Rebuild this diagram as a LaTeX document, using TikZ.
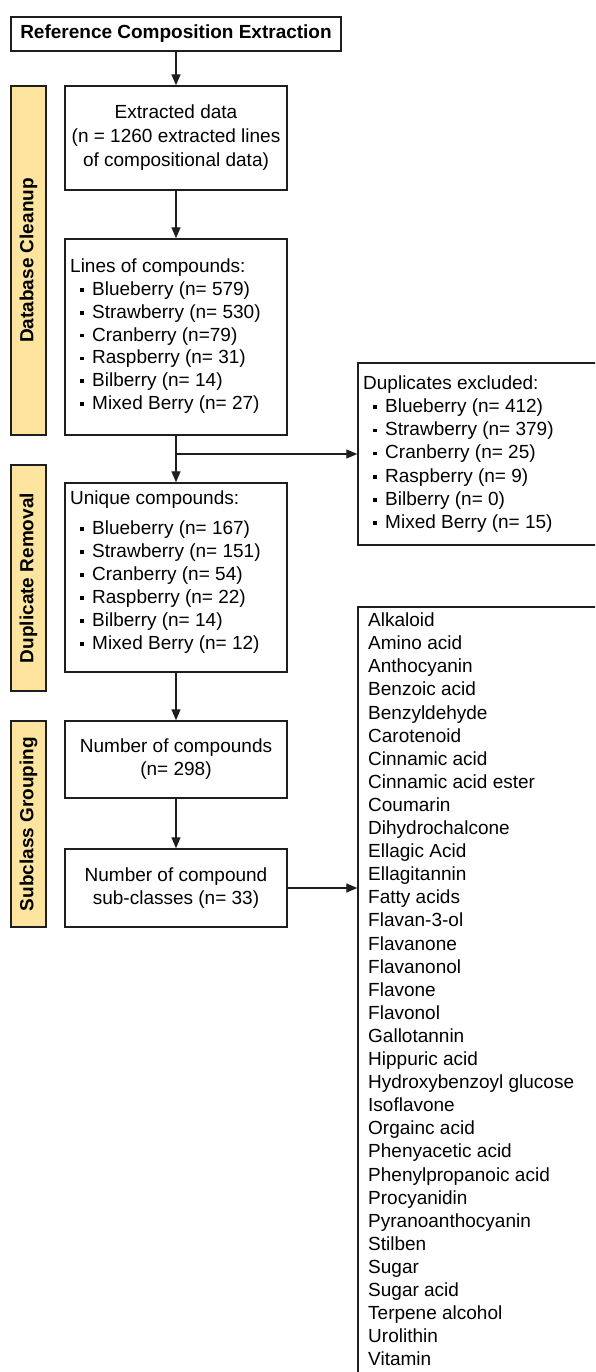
\documentclass[tikz,border=0pt]{standalone}
\usepackage{fontspec}
\setmainfont{Liberation Sans}
\usetikzlibrary{arrows.meta}
\definecolor{labfill}{RGB}{253,229,160}
\definecolor{edge}{RGB}{30,30,30}
\newcommand\myitem[1]{\hspace*{10pt}\rule[3.6pt]{3.6pt}{3.6pt}\hspace{8.4pt}#1}
\tikzset{
  box/.style={draw=edge, line width=1.4pt, fill=white, minimum width=222pt, inner sep=0pt},
  lab/.style={draw=edge, line width=1.2pt, fill=labfill, rotate=90, minimum height=35pt, inner sep=0pt,
    font=\bfseries\fontsize{19}{23}\selectfont},
  txt/.style={inner sep=0pt, align=left, anchor=north west},
  arr/.style={-{Triangle[length=11pt,width=9pt]}, line width=1.3pt, draw=edge},
}
\begin{document}
\begin{tikzpicture}[x=1pt,y=-1pt, font=\fontsize{19}{23}\selectfont]
\useasboundingbox (0,0) rectangle (595,1372);
\clip (0,0) rectangle (595,1372);
\fill[white] (0,0) rectangle (595,1372);

% side labels
\node[lab, minimum width=349pt] (lab1) at (28.5,260.5) {Database Cleanup};
\node[lab, minimum width=226pt] (lab2) at (28.5,578) {Duplicate Removal};
\node[lab, minimum width=206pt] (lab3) at (28.5,824) {Subclass Grouping};

% title
\node[box, line width=1.6pt, minimum width=330pt, minimum height=34pt, font=\bfseries\fontsize{19}{23}\selectfont]
  (title) at (176,34) {Reference Composition Extraction};

% extracted data
\node[box, minimum height=104pt, align=center, font=\fontsize{19}{24}\selectfont]
  (ext) at (176,138) {Extracted data\\(n = 1260 extracted lines\\of compositional data)};

% lines of compounds
\node[box, minimum height=196pt] (lines) at (176,337) {};
\node[txt, font=\fontsize{19}{22.8}\selectfont] (linestxt) at (70,258.7)
  {Lines of compounds:\\\myitem{Blueberry (n= 579)}\\\myitem{Strawberry (n= 530)}\\\myitem{Cranberry (n=79)}\\\myitem{Raspberry (n= 31)}\\\myitem{Bilberry (n= 14)}\\\myitem{Mixed Berry (n= 27)}};

% duplicates excluded
\node[box, minimum width=262pt, minimum height=182pt] (dup) at (489,454) {};
\node[txt, font=\fontsize{19}{23.2}\selectfont] (duptxt) at (363,375.4)
  {Duplicates excluded:\\\myitem{Blueberry (n= 412)}\\\myitem{Strawberry (n= 379)}\\\myitem{Cranberry (n= 25)}\\\myitem{Raspberry (n= 9)}\\\myitem{Bilberry (n= 0)}\\\myitem{Mixed Berry (n= 15)}};

% unique compounds
\node[box, minimum height=189pt] (uniq) at (176,577.5) {};
\node[txt, font=\fontsize{19}{23}\selectfont] (uniqtxt) at (70,490.7)
  {Unique compounds:\\[7pt]\myitem{Blueberry (n= 167)}\\\myitem{Strawberry (n= 151)}\\\myitem{Cranberry (n= 54)}\\\myitem{Raspberry (n= 22)}\\\myitem{Bilberry (n= 14)}\\\myitem{Mixed Berry (n= 12)}};

% number of compounds
\node[box, minimum height=77pt, align=center] (ncomp) at (176,759.5) {Number of compounds\\(n= 298)};

% sub-classes
\node[box, minimum height=78pt, align=center] (nsub) at (176,888) {Number of compound\\sub-classes (n= 33)};

% list of sub-classes
\node[box, minimum width=262pt, minimum height=793pt] (list) at (489,1003.5) {};
\node[txt, font=\fontsize{19}{23.1}\selectfont] (listtxt) at (368,612.7)
  {Alkaloid\\Amino acid\\Anthocyanin\\Benzoic acid\\Benzyldehyde\\Carotenoid\\Cinnamic acid\\Cinnamic acid ester\\Coumarin\\Dihydrochalcone\\Ellagic Acid\\Ellagitannin\\Fatty acids\\Flavan-3-ol\\Flavanone\\Flavanonol\\Flavone\\Flavonol\\Gallotannin\\Hippuric acid\\Hydroxybenzoyl glucose\\Isoflavone\\Orgainc acid\\Phenyacetic acid\\Phenylpropanoic acid\\Procyanidin\\Pyranoanthocyanin\\Stilben\\Sugar\\Sugar acid\\Terpene alcohol\\Urolithin\\Vitamin};

% connectors
\draw[arr] (title.south) -- (ext.north);
\draw[arr] (ext.south) -- (lines.north);
\draw[arr] (lines.south) -- (uniq.north);
\coordinate (br) at (lines.south |- dup.west);
\draw[arr] (br) -- (dup.west);
\draw[arr] (uniq.south) -- (ncomp.north);
\draw[arr] (ncomp.south) -- (nsub.north);
\draw[arr] (nsub.east) -- (nsub.east -| list.west);
\end{tikzpicture}
\end{document}
